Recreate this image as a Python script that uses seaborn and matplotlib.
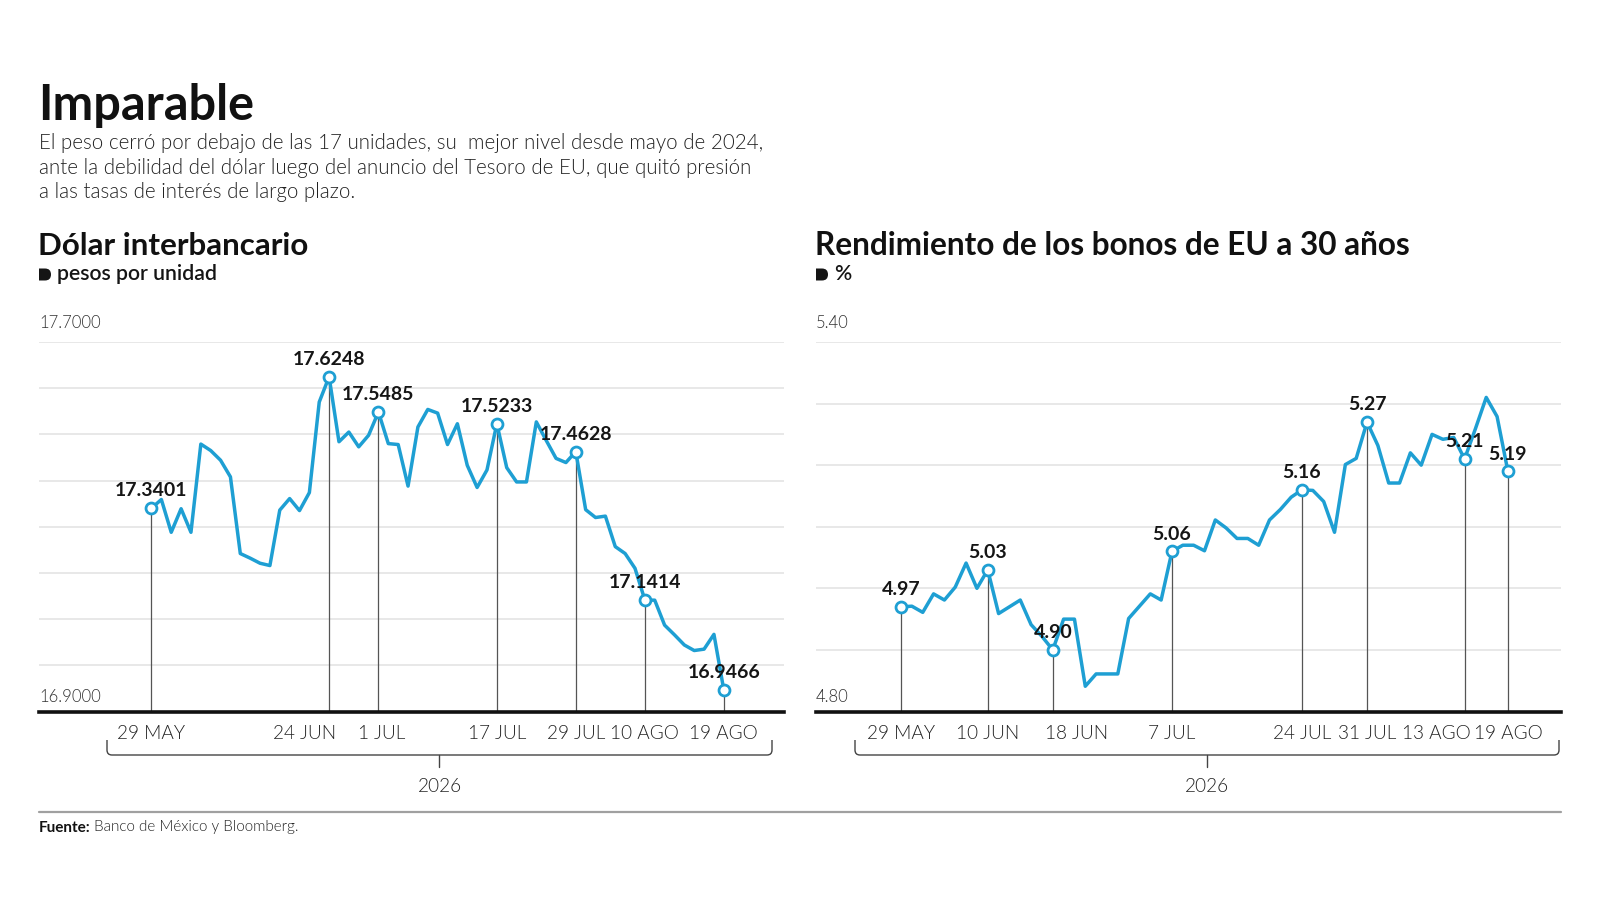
import matplotlib
matplotlib.use('Agg')
import matplotlib.pyplot as plt
import seaborn as sns
import pandas as pd
import numpy as np
from matplotlib.path import Path
from matplotlib.patches import PathPatch
from matplotlib.transforms import IdentityTransform, ScaledTranslation

sns.set_theme(style='white')
plt.rcParams['font.family'] = ['Lato', 'DejaVu Sans']

# ---------------- data ----------------
dolar_values = [
    17.3401, 17.359, 17.288, 17.339, 17.288, 17.479, 17.465, 17.444, 17.408, 17.242,
    17.232, 17.221, 17.216, 17.336, 17.361, 17.335, 17.374, 17.570, 17.6248, 17.484,
    17.505, 17.473, 17.498, 17.5485, 17.480, 17.478, 17.388, 17.516, 17.554, 17.546,
    17.478, 17.523, 17.433, 17.385, 17.423, 17.5233, 17.428, 17.397, 17.397, 17.527,
    17.487, 17.448, 17.439, 17.4628, 17.337, 17.320, 17.323, 17.257, 17.242, 17.210,
    17.1414, 17.141, 17.087, 17.066, 17.044, 17.032, 17.035, 17.067, 16.9466,
]
dolar_tick_idx = [0, 18, 23, 35, 43, 50, 58]
dolar_tick_labels = ['29 MAY', '24 JUN', '1 JUL', '17 JUL', '29 JUL', '10 AGO', '19 AGO']
dolar_ylim = (16.9, 17.7)
dolar_ylabels = ['16.9000', '17.7000']

bono_values = [
    4.97, 4.971, 4.961, 4.991, 4.981, 5.002, 5.041, 5.000, 5.03, 4.959,
    4.970, 4.981, 4.941, 4.922, 4.90, 4.950, 4.950, 4.841, 4.861, 4.861,
    4.861, 4.951, 4.971, 4.991, 4.981, 5.06, 5.070, 5.070, 5.061, 5.111,
    5.098, 5.081, 5.081, 5.070, 5.111, 5.128, 5.148, 5.16, 5.159, 5.141,
    5.091, 5.201, 5.211, 5.27, 5.232, 5.171, 5.171, 5.220, 5.200, 5.250,
    5.242, 5.245, 5.21, 5.259, 5.310, 5.279, 5.19,
]
bono_tick_idx = [0, 8, 14, 25, 37, 43, 52, 56]
bono_tick_labels = ['29 MAY', '10 JUN', '18 JUN', '7 JUL', '24 JUL', '31 JUL', '13 AGO', '19 AGO']
bono_ylim = (4.80, 5.40)
bono_ylabels = ['4.80', '5.40']

year_label = '2026'

# horizontal nudges of the date labels (pixels), layout only
dolar_label_shift = [0, -24.5, 3, 0, 0, 0, 0]
bono_label_shift = [0, 0, 23.5, 0, 0, 0, -28, 0]

BLUE = '#1e9fd3'
LIGHT = 300
W, H = 1600, 901

fig = plt.figure(figsize=(W / 100, H / 100), dpi=100)
fig.patch.set_facecolor('white')


def fx(x):
    return x / W


def fy(y):
    return 1 - y / H


def draw_panel(ax, values, tick_idx, tick_labels, shifts, ylim, step, fmt, xlim):
    df = pd.DataFrame({'idx': np.arange(len(values)), 'valor': values})
    marked = df.iloc[tick_idx]
    ax.set_xlim(*xlim)
    ax.set_ylim(*ylim)
    for g in np.arange(ylim[0] + step, ylim[1] + step / 2, step):
        ax.axhline(g, color='#e2e2e2', lw=1.1, zorder=0)
    ax.vlines(marked['idx'], ylim[0], marked['valor'], color='#555555', lw=0.9, zorder=1)
    sns.lineplot(data=df, x='idx', y='valor', ax=ax, color=BLUE, lw=2.5, zorder=3)
    sns.scatterplot(data=marked, x='idx', y='valor', ax=ax, color='white',
                    edgecolor=BLUE, linewidth=2.0, s=62, zorder=4, clip_on=False)
    for _, r in marked.iterrows():
        ax.annotate(fmt.format(r['valor']), (r['idx'], r['valor']), xytext=(0, 8.5),
                    textcoords='offset points', ha='center', va='baseline',
                    fontsize=14, fontweight='bold', color='#151515', zorder=5)
    for s in ['top', 'left', 'right']:
        ax.spines[s].set_visible(False)
    ax.spines['bottom'].set_color('#111111')
    ax.spines['bottom'].set_linewidth(2.6)
    ax.spines['bottom'].set_zorder(6)
    ax.set_yticks([])
    ax.set_xticks(tick_idx)
    ax.set_xticklabels(tick_labels, fontsize=13.7, fontweight=LIGHT, color='#222222')
    ax.tick_params(axis='x', length=0, pad=10)
    for lab, dx in zip(ax.get_xticklabels(), shifts):
        lab.set_transform(lab.get_transform() + ScaledTranslation(dx / 100, 0, fig.dpi_scale_trans))
    ax.set_xlabel('')
    ax.set_ylabel('')
    ax.set_facecolor('none')


ax_top, ax_bot = 342, 711.5
axL = fig.add_axes([fx(39), fy(ax_bot), fx(784 - 39), (ax_bot - ax_top) / H])
axR = fig.add_axes([fx(816), fy(ax_bot), fx(1561 - 816), (ax_bot - ax_top) / H])

draw_panel(axL, dolar_values, dolar_tick_idx, dolar_tick_labels, dolar_label_shift,
           dolar_ylim, 0.1, '{:.4f}', (-11.4, 64.1))
draw_panel(axR, bono_values, bono_tick_idx, bono_tick_labels, bono_label_shift,
           bono_ylim, 0.1, '{:.2f}', (-7.85, 60.9))

# y extreme labels
for x0, labs in [(39, dolar_ylabels), (816, bono_ylabels)]:
    fig.text(fx(x0), fy(702), labs[0], fontsize=12, fontweight=LIGHT, color='#333333', va='baseline')
    fig.text(fx(x0), fy(327.5), labs[1], fontsize=12, fontweight=LIGHT, color='#333333', va='baseline')

# header texts
fig.text(fx(38), fy(120.5), 'Imparable', fontsize=35, fontweight='bold', color='#111111', va='baseline')
sub = ['El peso cerró por debajo de las 17 unidades, su  mejor nivel desde mayo de 2024,',
       'ante la debilidad del dólar luego del anuncio del Tesoro de EU, que quitó presión',
       'a las tasas de interés de largo plazo.']
for i, line in enumerate(sub):
    fig.text(fx(39), fy(149 + 24.5 * i), line, fontsize=14.8, fontweight=LIGHT,
             color='#222222', va='baseline')

fig.text(fx(38), fy(255), 'Dólar interbancario', fontsize=22.6, fontweight='bold', color='#111111', va='baseline')
fig.text(fx(815), fy(255), 'Rendimiento de los bonos de EU a 30 años', fontsize=22.7, fontweight='bold',
         color='#111111', va='baseline')
fig.text(fx(57), fy(280.5), 'pesos por unidad', fontsize=15.3, fontweight='semibold', color='#151515', va='baseline')
fig.text(fx(834), fy(280.5), '%', fontsize=15.3, fontweight='semibold', color='#151515', va='baseline')


def tab_marker(x0, ytop, size=12):
    X = x0
    Y = H - ytop - size
    verts = [(X, Y), (X + size / 2, Y), (X + size, Y), (X + size, Y + size / 2),
             (X + size, Y + size), (X + size / 2, Y + size), (X, Y + size), (X, Y)]
    codes = [Path.MOVETO, Path.LINETO, Path.CURVE3, Path.CURVE3, Path.CURVE3, Path.CURVE3,
             Path.LINETO, Path.CLOSEPOLY]
    fig.patches.append(PathPatch(Path(verts, codes), transform=IdentityTransform(),
                                 facecolor='#151515', edgecolor='none', figure=fig))


tab_marker(39, 268.5)
tab_marker(816, 268.5)


def bracket(x0, x1, ytop=740, ybot=755, ytick=767, r=5):
    xc = (x0 + x1) / 2

    def P(x, y):
        return (x, H - y)
    verts = [P(x0, ytop), P(x0, ybot - r), P(x0, ybot), P(x0 + r, ybot),
             P(x1 - r, ybot), P(x1, ybot), P(x1, ybot - r), P(x1, ytop)]
    codes = [Path.MOVETO, Path.LINETO, Path.CURVE3, Path.CURVE3,
             Path.LINETO, Path.CURVE3, Path.CURVE3, Path.LINETO]
    fig.patches.append(PathPatch(Path(verts, codes), transform=IdentityTransform(),
                                 facecolor='none', edgecolor='#444444', lw=1.0, figure=fig))
    fig.lines.append(plt.Line2D([fx(xc), fx(xc)], [fy(ybot), fy(ytick)], transform=fig.transFigure,
                                color='#444444', lw=1.0))
    fig.text(fx(xc), fy(792), year_label, fontsize=13.7, fontweight=LIGHT, color='#222222',
             ha='center', va='baseline')


bracket(107, 772)
bracket(855, 1559)

# source line
fig.lines.append(plt.Line2D([fx(39), fx(1561)], [fy(812), fy(812)], transform=fig.transFigure,
                            color='#a0a0a0', lw=1.6))
t1 = fig.text(fx(39), fy(831.5), 'Fuente:', fontsize=11, fontweight='bold', color='#111111', va='baseline')
fig.canvas.draw()
bb = t1.get_window_extent(renderer=fig.canvas.get_renderer())
fig.text(fx(bb.x1 + 3), fy(831.5), 'Banco de México y Bloomberg.', fontsize=11, fontweight=LIGHT,
         color='#222222', va='baseline')

fig.savefig('out.png', dpi=100, facecolor='white')
